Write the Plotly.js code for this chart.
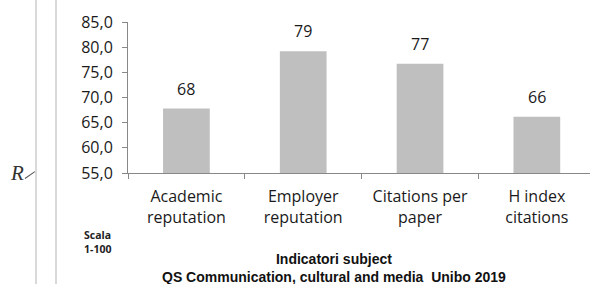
<!DOCTYPE html>
<html>
<head>
<meta charset="utf-8">
<script src="https://cdn.plot.ly/plotly-3.0.1.min.js"></script>
<style>
html,body{margin:0;padding:0;background:#fff;}
#wrap{position:relative;width:590px;height:284px;overflow:hidden;}
#chart{position:absolute;left:0;top:0;width:590px;height:284px;}
.vline{position:absolute;top:0;width:2px;height:284px;background:#d9d9d9;}
#rmark{position:absolute;left:11px;top:161px;font-family:"Liberation Serif",serif;font-style:italic;font-size:21px;line-height:24px;color:#333;}
#slash{position:absolute;left:25px;top:178px;width:12px;height:1px;background:#555;transform:rotate(-35deg);transform-origin:left center;}
#scala{position:absolute;left:84px;top:228px;font-family:"Open Sans",sans-serif;font-weight:bold;font-size:10.5px;line-height:14px;color:#222;}
</style>
</head>
<body>
<div id="wrap">
<div id="chart"></div>
<div class="vline" style="left:35px"></div>
<div class="vline" style="left:55px"></div>
<div id="rmark">R</div>
<div id="slash"></div>
<div id="scala">Scala<br>1-100</div>
</div>
<script>
const categories = ["Academic<br>reputation", "Employer<br>reputation", "Citations per<br>paper", "H index<br>citations"];
const values = [67.8, 79.2, 76.7, 66.2];
const labels = ["68", "79", "77", "66"];
const yTicks = [55, 60, 65, 70, 75, 80, 85];
const titleLines = ["Indicatori subject", "QS Communication, cultural and media  Unibo 2019"];

const font = "'Open Sans', sans-serif";

const trace = {
  type: "bar",
  x: categories,
  y: values,
  width: 0.4,
  marker: {color: "#bfbfbf"},
  hoverinfo: "skip",
  cliponaxis: false
};

const annotations = categories.map((c, i) => ({
  x: c, y: values[i], xref: "x", yref: "y",
  text: labels[i], showarrow: false, yanchor: "bottom", yshift: 7,
  font: {family: font, size: 16, color: "#1a1a1a"}
}));

annotations.push({
  xref: "paper", yref: "paper", x: 0.445, y: 0, yanchor: "top", xanchor: "center",
  yshift: -76,
  text: "<b>" + titleLines[0] + "</b><br><b>" + titleLines[1] + "</b>",
  showarrow: false, align: "center",
  font: {family: "'Liberation Sans', Arial, sans-serif", size: 14, color: "#111"}
});

const layout = {
  width: 590, height: 284,
  margin: {l: 128, r: 0, t: 22, b: 111},
  paper_bgcolor: "#fff", plot_bgcolor: "#fff",
  separators: ",.",
  showlegend: false,
  xaxis: {
    type: "category",
    range: [-0.5, 3.455],
    showline: true, linecolor: "#888", linewidth: 1,
    ticks: "outside", tickson: "boundaries", ticklen: 5, tickcolor: "#888",
    tickfont: {family: font, size: 16, color: "#1a1a1a"},
    ticklabelstandoff: 9,
    showgrid: false, zeroline: false, fixedrange: true
  },
  yaxis: {
    range: [55, 85],
    tickvals: yTicks, tickformat: ".1f",
    showline: true, linecolor: "#888", linewidth: 1,
    ticks: "outside", ticklen: 5, tickcolor: "#888",
    tickfont: {family: font, size: 16, color: "#1a1a1a"},
    ticklabelstandoff: 6,
    showgrid: false, zeroline: false, fixedrange: true
  },
  annotations: annotations
};

Plotly.newPlot("chart", [trace], layout, {displayModeBar: false, staticPlot: true});
</script>
</body>
</html>
